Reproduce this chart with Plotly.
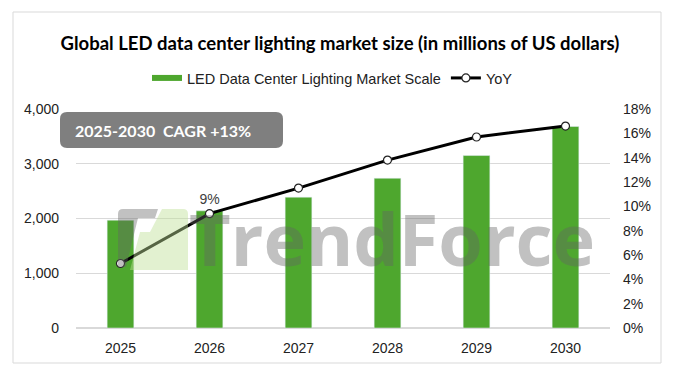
import plotly.graph_objects as go

years = ["2025", "2026", "2027", "2028", "2029", "2030"]
market_scale = [1970, 2140, 2390, 2735, 3150, 3680]
yoy_pct = [5.3, 9.4, 11.5, 13.8, 15.7, 16.6]
yoy_labels = ["", "9%", "", "", "", ""]
left_ticks = [0, 1000, 2000, 3000, 4000]
right_ticks = [0, 2, 4, 6, 8, 10, 12, 14, 16, 18]
right_tick_text = [f"{v}%" for v in right_ticks]

# the page body has an 8px margin; lay the figure out in reference pixels minus that offset
OFF = 8
W, H = 673 - 2 * OFF, 379 - 2 * OFF
PL, PR, PT, PB = 76, 610, 109, 328          # plot area in reference pixels
L, T = PL - OFF, PT - OFF
R, B = W - (PR - OFF), H - (PB - OFF)
PW, PH = PR - PL, PB - PT

def px(x):
    return (x - PL) / PW

def py(y):
    return (PB - y) / PH

GREEN = "#4ea72e"

fig = go.Figure()
fig.add_trace(go.Bar(x=years, y=market_scale, marker_color=GREEN, width=0.3,
                     showlegend=False, name="LED Data Center Lighting Market Scale"))
# legend proxy for bar (wide green swatch like the original)
fig.add_trace(go.Scatter(x=[None], y=[None], mode="lines",
                         line=dict(color=GREEN, width=6),
                         name="LED Data Center Lighting Market Scale"))
fig.add_trace(go.Scatter(x=years, y=yoy_pct, yaxis="y2", name="YoY",
                         mode="lines+markers+text", text=yoy_labels,
                         textposition="top center",
                         textfont=dict(family="Liberation Sans, Arial", size=14, color="#404040"),
                         line=dict(color="black", width=3),
                         marker=dict(size=8, color="white", line=dict(color="#222", width=1.2))))

shapes = [
    dict(type="rect", xref="paper", yref="paper", x0=px(13), x1=px(661), y0=py(12), y1=py(363),
         line=dict(color="#d9d9d9", width=1), fillcolor="rgba(0,0,0,0)", layer="below"),
]
# CAGR box (rounded rectangle)
x0, x1, y0, y1, r = 60, 283, 112, 148, 7
path = (f"M {px(x0+r)},{py(y0)} L {px(x1-r)},{py(y0)} Q {px(x1)},{py(y0)} {px(x1)},{py(y0+r)} "
        f"L {px(x1)},{py(y1-r)} Q {px(x1)},{py(y1)} {px(x1-r)},{py(y1)} "
        f"L {px(x0+r)},{py(y1)} Q {px(x0)},{py(y1)} {px(x0)},{py(y1-r)} "
        f"L {px(x0)},{py(y0+r)} Q {px(x0)},{py(y0)} {px(x0+r)},{py(y0)} Z")
shapes.append(dict(type="path", xref="paper", yref="paper", path=path,
                   fillcolor="#7f7f7f", line=dict(width=0), layer="above"))
# watermark logo (approximate)
gray_logo = (f"M {px(118)},{py(214)} Q {px(118)},{py(209)} {px(123)},{py(209)} L {px(158)},{py(209)} "
             f"L {px(155)},{py(218)} L {px(138)},{py(218)} L {px(126)},{py(267)} L {px(118)},{py(267)} Z")
green_logo = (f"M {px(162)},{py(209)} L {px(183)},{py(209)} Q {px(188)},{py(209)} {px(188)},{py(214)} "
              f"L {px(188)},{py(270)} L {px(130)},{py(270)} L {px(140)},{py(232)} L {px(150)},{py(232)} Z")
shapes.append(dict(type="path", xref="paper", yref="paper", path=gray_logo,
                   fillcolor="rgba(100,100,100,0.4)", line=dict(width=0), layer="above"))
shapes.append(dict(type="path", xref="paper", yref="paper", path=green_logo,
                   fillcolor="rgba(190,225,150,0.45)", line=dict(width=0), layer="above"))

annotations = [
    dict(text="2025-2030  CAGR +13%", xref="paper", yref="paper", x=px(73), y=py(130),
         xanchor="left", yanchor="middle", showarrow=False,
         font=dict(family="Lato", size=16, color="white", weight="bold")),
    dict(text="TrendForce", xref="paper", yref="paper", x=px(392), y=py(238),
         xanchor="center", yanchor="middle", showarrow=False,
         font=dict(family="Open Sans", size=72, color="rgba(100,100,100,0.4)", weight="bold")),
]

fig.update_layout(
    width=W, height=H,
    margin=dict(l=L, r=R, t=T, b=B, autoexpand=False),
    paper_bgcolor="white", plot_bgcolor="white",
    title=dict(text="<b>Global LED data center lighting market size (in millions of US dollars)</b>",
               x=(340 - OFF) / W, xref="container", xanchor="center",
               y=1 - (44 - OFF) / H, yref="container", yanchor="middle",
               font=dict(family="Lato", size=18.5, color="black")),
    legend=dict(orientation="h", x=px(147), y=py(78), xanchor="left", yanchor="middle",
                font=dict(family="Liberation Sans, Arial", size=14.5, color="#222"),
                bgcolor="rgba(0,0,0,0)"),
    bargap=0.7,
    xaxis=dict(showgrid=False, showline=False, ticks="", ticklabelstandoff=10,
               tickfont=dict(family="Liberation Sans, Arial", size=14, color="#222")),
    yaxis=dict(range=[0, 4000], tickvals=left_ticks, tickformat=",", showgrid=True,
               gridcolor="#d9d9d9", gridwidth=1, zeroline=True, zerolinecolor="#d9d9d9",
               showline=False, ticks="", ticklabelstandoff=16,
               tickfont=dict(family="Liberation Sans, Arial", size=14, color="#222")),
    yaxis2=dict(range=[0, 18], tickvals=right_ticks, ticktext=right_tick_text,
                overlaying="y", side="right",
                showgrid=False, zeroline=False, showline=False, ticks="", ticklabelstandoff=12,
                tickfont=dict(family="Liberation Sans, Arial", size=14, color="#222")),
    shapes=shapes,
    annotations=annotations,
)

fig.write_html("out.html")
